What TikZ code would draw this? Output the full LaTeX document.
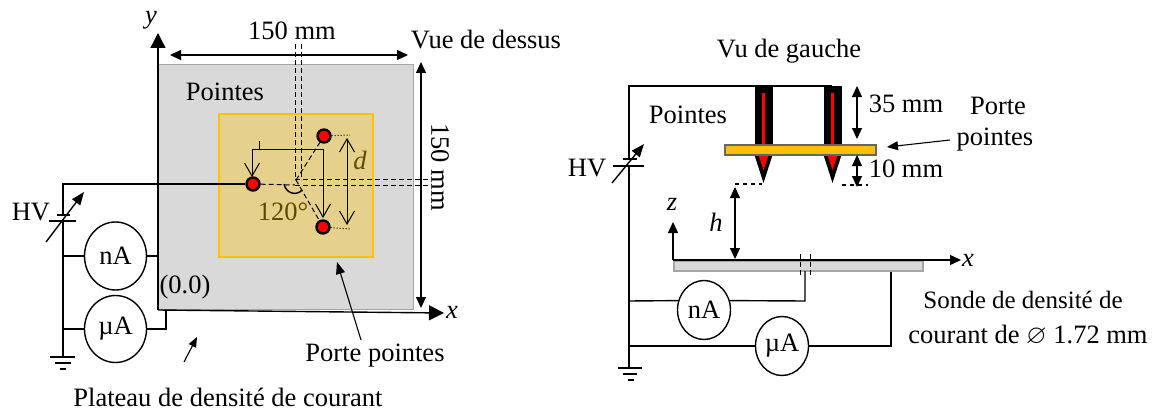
\documentclass[tikz,border=0pt]{standalone}
\usepackage{amsmath}
\usepackage{amssymb}
\usepackage{fontspec}
\setmainfont{Liberation Serif}
\usetikzlibrary{arrows.meta,shapes.geometric}

\begin{document}
\begin{tikzpicture}[x=1pt,y=-1pt,
    wire/.style={line width=1.4pt},
    fleche/.style={line width=1.1pt,{Triangle[length=11pt,width=10pt]}-{Triangle[length=11pt,width=10pt]}},
    axe/.style={line width=1.4pt,-{Triangle[length=15pt,width=15pt]}},
    ouvert/.style={line width=1pt,-{Straight Barb[length=13pt,width=15pt]}},
    mince/.style={line width=1pt,dash pattern=on 5pt off 3pt},
    pointille/.style={line width=1pt,dotted},
    gros/.style={line width=2.8pt,dash pattern=on 4pt off 4pt},
    plaque/.style={draw=black!35,line width=1.8pt,fill=black!15,inner sep=0pt},
    porte/.style={line width=2pt,fill=porteor,inner sep=0pt},
    meter/.style={ellipse,draw,line width=1.4pt,inner sep=0pt},
    dot/.style={circle,draw,line width=2.4pt,fill=red,inner sep=0pt,minimum size=13pt},
    texte/.style={font=\fontsize{26.5}{28}\selectfont,inner sep=0pt},
    italique/.style={font=\fontsize{26.5}{28}\selectfont\itshape,inner sep=0pt},
    brun/.style={text=brunfonce}]
    \definecolor{porteor}{HTML}{E5D08C}
    \definecolor{brunfonce}{HTML}{5F4A00}
    \definecolor{jaune}{HTML}{FFC000}
    \useasboundingbox (0,0) rectangle (1157,412);

    % Vue de dessus: the plates
    \node[plaque,minimum width=255pt,minimum height=245pt] (plateau) at (286,187) {};
    \node[porte,draw=jaune,minimum width=154pt,minimum height=143pt] (pporte) at (296,185.5) {};

    % Axes
    \coordinate (origin) at (158,310);
    \coordinate (ytop) at (158,33);
    \coordinate (xend) at (444,313);
    \draw[axe] (origin) -- (ytop);
    \draw[axe] (origin) -- (xend);
    \node[italique] (ylabel) at (151,20) {y};
    \node[italique] (xlabel) at (452,312) {x};

    % The three points
    \node[dot] (pa) at (253,184) {};
    \node[dot] (pb) at (324,136) {};
    \node[dot] (pc) at (323,227) {};
    \coordinate (centre) at (296,180);

    % Double dashed center lines
    \coordinate (va1) at (295,44);
    \coordinate (va2) at (295,180);
    \coordinate (vb1) at (301,44);
    \coordinate (vb2) at (301,180);
    \coordinate (ha1) at (295,179);
    \coordinate (ha2) at (428,179);
    \coordinate (hb1) at (295,185);
    \coordinate (hb2) at (428,185);
    \draw[mince] (va1) -- (va2);
    \draw[mince] (vb1) -- (vb2);
    \draw[mince] (ha1) -- (ha2);
    \draw[mince] (hb1) -- (hb2);
    \draw[mince] (pa) -- (hb1);
    \draw[mince] (centre) -- (pb);
    \draw[mince] (centre) -- (pc);
    % The 120 degrees arc
    \draw[wire] (284,184) .. controls (286,194) and (297,196) .. (302,190);
    \node[texte,brun] (angle) at (283,212) {120°};

    % Dimension arrows
    \coordinate (wa) at (170,55);
    \coordinate (wb) at (408,55);
    \coordinate (ha) at (421,62);
    \coordinate (hb) at (421,308);
    \draw[fleche] (wa) -- (wb);
    \draw[fleche] (ha) -- (hb);
    \node[texte] (largeur) at (292,31) {150 mm};
    \node[texte,rotate=-90] (hauteur) at (440,167) {150 mm};
    \node[texte] (vue) at (486,40) {Vue de dessus};
    \node[texte] (pointes) at (225,92) {Pointes};

    % Spacing d
    \coordinate (da) at (347,138);
    \coordinate (db) at (347,225);
    \coordinate (dc) at (350,135);
    \coordinate (dd) at (350,229);
    \draw[ouvert,{Straight Barb[length=13pt,width=15pt]}-{Straight Barb[length=13pt,width=15pt]}] (da) -- (db);
    \draw[pointille] (pb) -- (dc);
    \draw[pointille] (pc) -- (dd);
    \node[italique,brun] (dlabel) at (360,160) {d};

    % Feed lines to the points
    \coordinate (fa) at (259,141);
    \coordinate (fb) at (259,149);
    \coordinate (fc) at (252,149);
    \coordinate (fd) at (323,149);
    \coordinate (fe) at (252,177);
    \coordinate (ff) at (323,218);
    \draw[ouvert,-] (fa) -- (fb);
    \draw[ouvert] (fb) -- (fc) -- (fe);
    \draw[ouvert] (fb) -- (fd) -- (ff);

    % HV supply
    \coordinate (hva) at (63,184);
    \coordinate (hvb) at (63,215);
    \coordinate (hvc) at (63,221);
    \coordinate (gnda) at (63,357);
    \coordinate (pla) at (57,215);
    \coordinate (plb) at (70,215);
    \coordinate (plc) at (49,221);
    \coordinate (pld) at (76,221);
    \coordinate (vara) at (46,242);
    \coordinate (varb) at (84,192);
    \draw[wire] (pa) -- (hva) -- (hvb);
    \draw[wire] (hvc) -- (gnda);
    \draw[line width=2.8pt] (pla) -- (plb);
    \draw[wire] (plc) -- (pld);
    \draw[wire,-{Triangle[length=13pt,width=10pt]}] (vara) -- (varb);
    \node[texte] (hvlabel) at (31,212) {HV};

    % Ground
    \coordinate (gb) at (50,357);
    \coordinate (gc) at (75,357);
    \coordinate (gd) at (55,363);
    \coordinate (ge) at (71,363);
    \coordinate (gf) at (60,369);
    \coordinate (gg) at (66,369);
    \draw[wire] (gb) -- (gc);
    \draw[wire] (gd) -- (ge);
    \draw[wire] (gf) -- (gg);

    % Ammeters
    \node[meter,texte,minimum width=62pt,minimum height=68pt] (na) at (115.5,256) {nA};
    \node[meter,texte,minimum width=62pt,minimum height=67pt] (ua) at (115.5,329) {µA};
    \coordinate (naw) at (63,256);
    \coordinate (nae) at (158,256);
    \coordinate (uaw) at (63,329);
    \coordinate (uae) at (166,329);
    \coordinate (uap) at (166,310);
    \draw[wire] (naw) -- (na);
    \draw[wire] (na) -- (nae);
    \draw[wire] (uaw) -- (ua);
    \draw[wire] (ua) -- (uae) -- (uap);
    \node[texte] (zero) at (185,287) {(0.0)};

    % Labels of the plates
    \coordinate (sa) at (184,362);
    \coordinate (sb) at (197,337);
    \draw[line width=1.1pt,-{Triangle[length=10pt,width=8pt]}] (sa) -- (sb);
    \node[texte] (plateautxt) at (228,397) {Plateau de densité de courant};
    \coordinate (ra) at (361,340);
    \coordinate (rb) at (337,262);
    \draw[line width=1.1pt,-{Triangle[length=12pt,width=9pt]}] (ra) -- (rb);
    \node[texte] (portetxt) at (375,356) {Porte pointes};

    % Vu de gauche: needles
    \node[texte] (vug) at (789,51) {Vu de gauche};
    \foreach \name/\xc in {na/763.5,nb/832.5} {
        \fill[black] (\xc-9,86) rectangle (\xc+9,146);
        \fill[red] (\xc-1.5,93) rectangle (\xc+1.5,145);
        \fill[black] (\xc-9,155) -- (\xc+9,155) -- (\xc,183) -- cycle;
        \fill[red] (\xc-5,155) -- (\xc+5,155) -- (\xc,170) -- cycle;
    }
    \node[draw=black!60,line width=1.3pt,fill=jaune,inner sep=0pt,minimum width=151pt,minimum height=10pt] (support) at (800.5,150) {};

    % HV supply and top wire
    \coordinate (topa) at (763,86);
    \coordinate (topb) at (832,86);
    \coordinate (topc) at (629,86);
    \coordinate (topd) at (629,159);
    \coordinate (tope) at (629,166);
    \coordinate (gndb) at (629,368);
    \draw[wire] (topb) -- (topa) -- (topc) -- (topd);
    \draw[wire] (tope) -- (gndb);
    \coordinate (qla) at (623,159);
    \coordinate (qlb) at (637,159);
    \coordinate (qlc) at (613,166);
    \coordinate (qld) at (644,166);
    \coordinate (qva) at (612,183);
    \coordinate (qvb) at (644,144);
    \draw[line width=2.8pt] (qla) -- (qlb);
    \draw[wire] (qlc) -- (qld);
    \draw[wire,-{Triangle[length=13pt,width=10pt]}] (qva) -- (qvb);
    \node[texte] (hvr) at (587,168) {HV};
    \node[texte] (pointesr) at (688,115) {Pointes};

    % Ground
    \coordinate (ra1) at (618,368);
    \coordinate (ra2) at (642,368);
    \coordinate (rb1) at (623,374);
    \coordinate (rb2) at (637,374);
    \coordinate (rc1) at (628,380);
    \coordinate (rc2) at (634,380);
    \draw[wire] (ra1) -- (ra2);
    \draw[wire] (rb1) -- (rb2);
    \draw[wire] (rc1) -- (rc2);

    % Dimensions of the side view
    \coordinate (ca) at (857,86);
    \coordinate (cb) at (857,139);
    \coordinate (cc) at (857,155);
    \coordinate (cd) at (857,187);
    \draw[fleche] (ca) -- (cb);
    \draw[fleche] (cc) -- (cd);
    \node[texte] (trente) at (906,104) {35 mm};
    \node[texte] (dix) at (906,169) {10 mm};
    \node[texte] (pa1) at (998,106) {Porte};
    \node[texte] (pa2) at (995,140) {pointes};
    \coordinate (pf) at (950,140);
    \coordinate (pg) at (887,147);
    \draw[line width=1.1pt,-{Triangle[length=11pt,width=9pt]}] (pf) -- (pg);

    % Gap h
    \coordinate (ga) at (735,184);
    \coordinate (gh) at (762,184);
    \coordinate (gi) at (842,185);
    \coordinate (gj) at (868,185);
    \coordinate (gk) at (735,187);
    \coordinate (gl) at (735,259);
    \draw[gros] (ga) -- (gh);
    \draw[gros] (gi) -- (gj);
    \draw[fleche] (gk) -- (gl);
    \node[italique] (hlabel) at (716,222) {h};

    % Probe plate and axes
    \node[plaque,minimum width=249pt,minimum height=10pt] (sonde) at (798.5,266) {};
    \coordinate (oo) at (673,260);
    \coordinate (zz) at (673,222);
    \coordinate (xx) at (961,260);
    \draw[axe,-{Triangle[length=11pt,width=10pt]}] (oo) -- (zz);
    \draw[axe,-{Triangle[length=11pt,width=10pt]}] (oo) -- (xx);
    \node[italique] (zlabel) at (672,204) {z};
    \node[italique] (xlabelr) at (968,260) {x};
    \coordinate (ka) at (800,254);
    \coordinate (kb) at (800,277);
    \coordinate (kc) at (810,254);
    \coordinate (kd) at (810,277);
    \draw[mince] (ka) -- (kb);
    \draw[mince] (kc) -- (kd);

    % Ammeters of the side view
    \node[meter,texte,minimum width=53pt,minimum height=59pt] (nb) at (704,310) {nA};
    \node[meter,texte,minimum width=53pt,minimum height=59pt] (ub) at (782,346) {µA};
    \coordinate (nbw) at (629,301);
    \coordinate (nbe) at (805,301);
    \coordinate (nbp) at (805,271);
    \coordinate (ubw) at (629,346);
    \coordinate (ube) at (891,346);
    \coordinate (ubp) at (891,272);
    \draw[wire] (nbw) -- (nb.160);
    \draw[wire] (nb.20) -- (nbe) -- (nbp);
    \draw[wire] (ubw) -- (ub);
    \draw[wire] (ub) -- (ube) -- (ubp);

    % Text of the probe
    \node[texte,font=\fontsize{25}{28}\selectfont] (st1) at (1023,300) {Sonde de densité de};
    \node[texte] (st2) at (1028,335) {courant de $\varnothing$ 1.72 mm};
\end{tikzpicture}
\end{document}
